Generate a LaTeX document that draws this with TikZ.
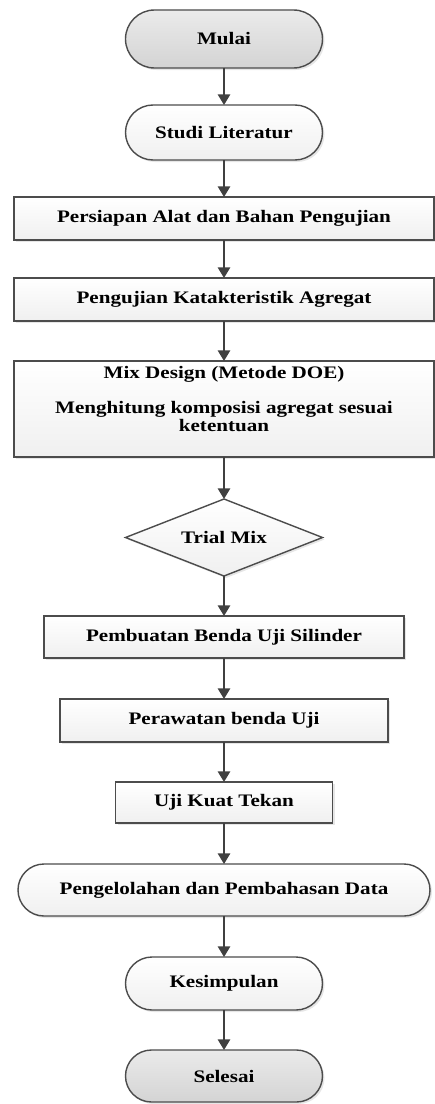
\documentclass[tikz,border=0pt]{standalone}
\usepackage{fontspec}
\setmainfont{Liberation Serif}[FakeStretch=1.2]
\usepackage{tikz}
\usetikzlibrary{shapes,arrows.meta,positioning,shadows}
\tikzset{
  flowarrow/.style = {black!75, line width=0.9pt, -{Triangle[width=7pt,length=6pt]}},
  flowbase/.style  = {draw=black!70, line width=0.8pt, inner sep=0pt, outer sep=0pt, align=center,
                      font=\fontsize{10}{10.3}\selectfont\bfseries,
                      drop shadow={shadow xshift=0.04cm, shadow yshift=-0.04cm, opacity=0.2}},
  terminal/.style  = {flowbase, rounded rectangle, top color=gray!16, bottom color=gray!34,
                      minimum width=3.94cm, minimum height=1.1cm},
  roundbox/.style  = {flowbase, rounded rectangle, top color=white, bottom color=gray!12,
                      minimum width=3.94cm, minimum height=1.1cm},
  processbox/.style = {flowbase, rectangle, top color=white, bottom color=gray!12,
                      minimum width=8.4cm, minimum height=0.86cm},
  decision/.style  = {flowbase, diamond, aspect=2.56, top color=white, bottom color=gray!12,
                      minimum width=3.94cm, minimum height=1.54cm},
}

\begin{document}
\begin{tikzpicture}[auto,node distance=0.8cm]
      \useasboundingbox (0,0) rectangle (8.7,-22.08);
      \node [terminal, minimum height=1.16cm] (mulai) at (4.48,-0.78) {Mulai};
      \node [roundbox, below=0.74cm of mulai] (studi) {Studi Literatur};
      \node [processbox, below=0.74cm of studi] (persiapan) {Persiapan Alat dan Bahan Pengujian};
      \node [processbox, below=0.76cm of persiapan] (karakter) {Pengujian Katakteristik Agregat};
      \node [processbox, below=of karakter, minimum height=1.92cm] (mix)
            {Mix Design (Metode DOE)\\[0.34cm]Menghitung komposisi agregat sesuai\\ketentuan\\[0.04cm]\mbox{}};
      \node [decision, below=0.84cm of mix] (trial) {Trial Mix};
      \node [processbox, below=of trial, minimum width=7.2cm, minimum height=0.84cm] (benda) {Pembuatan Benda Uji Silinder};
      \node [processbox, below=0.82cm of benda, minimum width=6.56cm] (rawat) {Perawatan benda Uji};
      \node [processbox, below=of rawat, minimum width=4.34cm, minimum height=0.82cm] (tekan) {Uji Kuat Tekan};
      \node [roundbox, below=0.82cm of tekan, minimum width=8.24cm, minimum height=1.04cm] (olah) {Pengelolahan dan Pembahasan Data};
      \node [roundbox, below=0.82cm of olah, minimum height=1.06cm] (simpul) {Kesimpulan};
      \node [terminal, below=of simpul, minimum height=1.04cm] (selesai) {Selesai};

      \path (mulai) edge[flowarrow] (studi);
      \path (studi) edge[flowarrow] (persiapan);
      \path (persiapan) edge[flowarrow] (karakter);
      \path (karakter) edge[flowarrow] (mix);
      \path (mix) edge[flowarrow] (trial);
      \path (trial) edge[flowarrow] (benda);
      \path (benda) edge[flowarrow] (rawat);
      \path (rawat) edge[flowarrow] (tekan);
      \path (tekan) edge[flowarrow] (olah);
      \path (olah) edge[flowarrow] (simpul);
      \path (simpul) edge[flowarrow] (selesai);
\end{tikzpicture}
\end{document}
